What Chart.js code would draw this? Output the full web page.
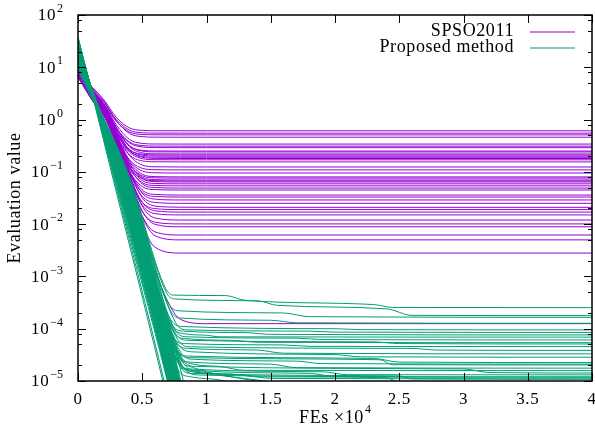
<!DOCTYPE html>
<html>
<head>
<meta charset="utf-8">
<script src="https://cdn.jsdelivr.net/npm/chart.js@4/dist/chart.umd.min.js"></script>
<style>
  body { margin: 0; background: #fff; }
  #wrap { width: 595px; height: 430px; }
</style>
</head>
<body>
<div id="wrap"><canvas id="c" width="595" height="430"></canvas></div>
<script>
// x ticks (FEs x 10^4) and y decades
const xTicks = [0, 0.5, 1, 1.5, 2, 2.5, 3, 3.5, 4];
const xTickLabels = ["0", "0.5", "1", "1.5", "2", "2.5", "3", "3.5", "4"];
const yExps = [-5, -4, -3, -2, -1, 0, 1, 2];
const seriesNames = ["SPSO2011", "Proposed method"];

// SPSO2011 runs, sampled at these FEs
const spsoFEs = [0, 0.1, 0.2, 0.3, 0.4, 0.5, 0.6, 0.8, 1, 4];
const spsoRuns = [
  [8, 4.45, 2.41, 1.09, 0.694, 0.621, 0.611, 0.61, 0.61, 0.61],
  [9, 4.07, 2.20, 0.99, 0.627, 0.56, 0.551, 0.55, 0.55, 0.55],
  [7, 3.71, 2.01, 0.91, 0.58, 0.519, 0.511, 0.51, 0.51, 0.51],
  [10, 4.30, 2.26, 0.94, 0.544, 0.471, 0.461, 0.46, 0.46, 0.46],
  [8.5, 3.86, 1.99, 0.78, 0.417, 0.35, 0.341, 0.34, 0.34, 0.34],
  [6.5, 3.19, 1.66, 0.67, 0.373, 0.318, 0.311, 0.31, 0.31, 0.31],
  [9, 3.49, 1.79, 0.69, 0.36, 0.299, 0.291, 0.29, 0.29, 0.29],
  [7.5, 3.13, 1.60, 0.61, 0.313, 0.258, 0.251, 0.25, 0.25, 0.25],
  [8, 3.76, 1.89, 0.68, 0.317, 0.25, 0.241, 0.24, 0.24, 0.24],
  [10, 4.06, 2.02, 0.70, 0.304, 0.231, 0.221, 0.22, 0.22, 0.22],
  [6.5, 2.77, 1.41, 0.53, 0.266, 0.217, 0.211, 0.21, 0.21, 0.21],
  [8.5, 3.40, 1.70, 0.60, 0.27, 0.209, 0.201, 0.20, 0.20, 0.20],
  [7, 3.07, 1.54, 0.55, 0.253, 0.198, 0.191, 0.19, 0.19, 0.19],
  [9.5, 3.70, 1.83, 0.62, 0.257, 0.19, 0.181, 0.18, 0.18, 0.18],
  [8, 3.37, 1.67, 0.57, 0.24, 0.179, 0.171, 0.17, 0.17, 0.17],
  [7.5, 2.72, 1.36, 0.475, 0.211, 0.162, 0.156, 0.155, 0.155, 0.155],
  [9, 3.96, 1.92, 0.60, 0.208, 0.135, 0.125, 0.124, 0.124, 0.124],
  [6.5, 2.99, 1.46, 0.47, 0.172, 0.117, 0.11, 0.109, 0.109, 0.109],
  [8, 3.30, 1.60, 0.495, 0.165, 0.104, 0.096, 0.095, 0.095, 0.095],
  [10, 3.60, 1.73, 0.52, 0.157, 0.0899, 0.0811, 0.0801, 0.080, 0.080],
  [7, 2.96, 1.43, 0.436, 0.139, 0.0841, 0.0769, 0.076, 0.076, 0.076],
  [8.5, 3.27, 1.57, 0.47, 0.14, 0.079, 0.071, 0.070, 0.070, 0.070],
  [6.5, 2.63, 1.27, 0.387, 0.123, 0.0742, 0.0678, 0.067, 0.067, 0.067],
  [9, 3.90, 1.86, 0.544, 0.148, 0.0748, 0.0652, 0.064, 0.064, 0.064],
  [7.5, 3.26, 1.56, 0.459, 0.129, 0.068, 0.06, 0.059, 0.059, 0.059],
  [8, 2.93, 1.40, 0.414, 0.117, 0.0621, 0.0549, 0.054, 0.054, 0.054],
  [9.5, 3.57, 1.70, 0.489, 0.126, 0.0589, 0.0501, 0.049, 0.049, 0.049],
  [7, 2.61, 1.25, 0.365, 0.101, 0.0522, 0.0458, 0.045, 0.045, 0.045],
  [8.5, 3.24, 1.54, 0.436, 0.106, 0.045, 0.037, 0.036, 0.036, 0.036],
  [6.5, 2.91, 1.38, 0.393, 0.096, 0.0411, 0.0339, 0.033, 0.033, 0.033],
  [9, 3.55, 1.68, 0.469, 0.106, 0.0389, 0.0301, 0.029, 0.029, 0.029],
  [8, 3.23, 1.53, 0.425, 0.095, 0.034, 0.026, 0.025, 0.025, 0.025],
  [10, 3.86, 1.82, 0.501, 0.105, 0.0318, 0.0222, 0.0211, 0.021, 0.021],
  [7, 2.58, 1.22, 0.339, 0.075, 0.0262, 0.0198, 0.019, 0.019, 0.019],
  [8.5, 3.22, 1.52, 0.417, 0.087, 0.026, 0.018, 0.017, 0.017, 0.017],
  [7.5, 2.90, 1.37, 0.375, 0.078, 0.0231, 0.0159, 0.015, 0.015, 0.015],
  [9.5, 3.53, 1.66, 0.452, 0.089, 0.0219, 0.0131, 0.012, 0.012, 0.012],
  [6.5, 2.57, 1.21, 0.33, 0.0661, 0.0173, 0.0109, 0.0101, 0.0101, 0.0101],
  [8, 3.21, 1.51, 0.409, 0.0789, 0.0179, 0.0099, 0.0089, 0.0089, 0.0089],
  [7, 2.89, 1.36, 0.366, 0.0692, 0.0143, 0.0071, 0.0062, 0.0062, 0.0062],
  [9, 3.21, 1.51, 0.405, 0.075, 0.014, 0.006, 0.005, 0.005, 0.005],
  [8, 2.56, 1.20, 0.323, 0.0588, 0.01, 0.0036, 0.0028, 0.0028, 0.0028],
  [8, 2.6, 1.2, 0.32, 0.05, 0.006, 0.0012, 1.5e-4, 1.25e-4, 1.25e-4]
];

// Proposed method runs, [FEs, value] points
const proposedRuns = [
  [[0, 10], [0.4, 0.08], [0.68, 6e-4], [0.74, 4.4e-4], [1.15, 4.3e-4], [1.3, 3.5e-4], [2.3, 2.9e-4], [2.45, 2.55e-4], [4, 2.53e-4]],
  [[0, 11], [0.4, 0.07], [0.69, 4.8e-4], [0.76, 3.7e-4], [1.4, 3.4e-4], [1.55, 2.8e-4], [2.4, 2.4e-4], [2.6, 1.8e-4], [4, 1.78e-4]],
  [[0, 12], [0.4, 0.06], [0.7, 3.2e-4], [0.78, 2.2e-4], [1.6, 2.0e-4], [1.8, 1.7e-4], [4, 1.65e-4]],
  [[0, 9], [0.4, 0.065], [0.72, 2.2e-4], [0.8, 1.6e-4], [1.5, 1.45e-4], [1.7, 1.3e-4], [4, 1.27e-4]],
  [[0, 14], [0.4, 0.05], [0.72, 1.5e-4], [0.82, 1.1e-4], [2.0, 1.0e-4], [2.2, 9.6e-5], [4, 9.5e-5]],
  [[0, 13], [0.4, 0.055], [0.73, 1.2e-4], [0.82, 9e-5], [1.3, 8.4e-5], [1.5, 7.8e-5], [4, 7.6e-5]],
  [[0, 15], [0.4, 0.045], [0.73, 1.1e-4], [0.83, 8e-5], [1.0, 7.5e-5], [1.1, 7e-5], [4, 6.9e-5]],
  [[0, 11], [0.4, 0.06], [0.75, 1e-4], [0.85, 7e-5], [1.7, 6.6e-5], [1.9, 6.2e-5], [4, 6.1e-5]],
  [[0, 17], [0.4, 0.04], [0.74, 9e-5], [0.83, 6.5e-5], [1.2, 6e-5], [1.4, 5.5e-5], [4, 5.4e-5]],
  [[0, 13], [0.4, 0.05], [0.76, 8e-5], [0.86, 6e-5], [2.3, 5.6e-5], [2.5, 5.2e-5], [4, 5.1e-5]],
  [[0, 19], [0.4, 0.035], [0.74, 7e-5], [0.83, 5.2e-5], [1.6, 4.9e-5], [1.8, 4.6e-5], [4, 4.55e-5]],
  [[0, 16], [0.4, 0.04], [0.76, 5.5e-5], [0.86, 4.2e-5], [1.4, 3.9e-5], [1.6, 3.4e-5], [4, 3.3e-5]],
  [[0, 14], [0.4, 0.05], [0.78, 5e-5], [0.9, 3.6e-5], [2.0, 3.2e-5], [2.2, 2.9e-5], [4, 2.85e-5]],
  [[0, 21], [0.4, 0.03], [0.75, 4e-5], [0.86, 3e-5], [2.3, 2.7e-5], [2.5, 2.3e-5], [4, 2.25e-5]],
  [[0, 16], [0.4, 0.045], [0.77, 4e-5], [0.88, 2.8e-5], [2.35, 2.55e-5], [2.45, 2.05e-5], [4, 2.03e-5]],
  [[0, 18], [0.4, 0.035], [0.77, 3.2e-5], [0.87, 2.3e-5], [1.5, 2.1e-5], [1.7, 1.8e-5], [4, 1.76e-5]],
  [[0, 12], [0.4, 0.055], [0.8, 3e-5], [0.9, 2.1e-5], [1.1, 1.9e-5], [1.3, 1.6e-5], [4, 1.58e-5]],
  [[0, 20], [0.4, 0.03], [0.77, 2.5e-5], [0.87, 1.7e-5], [1.9, 1.5e-5], [2.1, 1.32e-5], [4, 1.31e-5]],
  [[0, 15], [0.4, 0.045], [0.8, 2.2e-5], [0.9, 1.5e-5], [1.2, 1.35e-5], [1.4, 1.2e-5], [4, 1.18e-5]],
  [[0, 17], [0.4, 0.04], [0.79, 2e-5], [0.88, 1.4e-5], [2.5, 1.25e-5], [2.6, 1.1e-5], [4, 1.08e-5]],
  [[0, 14], [0.4, 0.05], [0.8, 2.8e-5], [0.92, 1.9e-5], [3.0, 1.7e-5], [3.2, 1.45e-5], [4, 1.42e-5]],
  [[0, 18], [0.4, 0.035], [0.78, 2.4e-5], [0.9, 1.6e-5], [1.8, 1.4e-5], [2.0, 1.22e-5], [4, 1.2e-5]],
  [[0, 12], [0.4, 0.06], [0.82, 2.2e-5], [0.95, 1.5e-5], [1.3, 1.3e-5], [1.5, 1.12e-5], [4, 1.1e-5]],
  [[0, 16], [0.4, 0.04], [0.8, 3.5e-5], [0.9, 2.6e-5], [1.7, 2.4e-5], [1.9, 2.15e-5], [4, 2.1e-5]],
  [[0, 20], [0.4, 0.03], [0.78, 6e-5], [0.88, 4.5e-5], [2.6, 4.2e-5], [2.8, 3.9e-5], [4, 3.85e-5]],
  [[0, 13], [0.4, 0.055], [0.76, 1.3e-4], [0.85, 9.5e-5], [1.8, 9e-5], [2.0, 8.6e-5], [4, 8.5e-5]],
  [[0, 16], [0.4, 0.045], [0.8, 2.5e-5], [0.9, 1.8e-5], [1.0, 1.5e-5], [1.5, 9e-6]],
  [[0, 19], [0.4, 0.035], [0.79, 2e-5], [0.9, 1.5e-5], [1.2, 1.2e-5], [1.6, 9e-6]],
  [[0, 13], [0.4, 0.05], [0.82, 1.8e-5], [0.95, 1.3e-5], [2.4, 1.15e-5], [2.5, 9e-6]],
  [[0, 21], [0.4, 0.03], [0.78, 1.6e-5], [0.88, 1.2e-5], [1.1, 1.05e-5], [1.2, 9e-6]],
  [[0, 30], [0.4, 0.012], [0.70, 1e-5], [0.75, 3e-6]],
  [[0, 25], [0.4, 0.02], [0.74, 1e-5], [0.79, 3e-6]],
  [[0, 28], [0.4, 0.015], [0.73, 1e-5], [0.78, 3e-6]],
  [[0, 20], [0.4, 0.03], [0.76, 1e-5], [0.81, 3e-6]],
  [[0, 22], [0.4, 0.025], [0.75, 1e-5], [0.80, 3e-6]],
  [[0, 17], [0.4, 0.04], [0.78, 1e-5], [0.83, 3e-6]],
  [[0, 32], [0.4, 0.009], [0.71, 1e-5], [0.76, 3e-6]],
  [[0, 14], [0.4, 0.05], [0.79, 1e-5], [0.84, 3e-6]],
  [[0, 26], [0.4, 0.018], [0.74, 1e-5], [0.79, 3e-6]],
  [[0, 19], [0.4, 0.035], [0.77, 1e-5], [0.82, 3e-6]],
  [[0, 24], [0.4, 0.022], [0.75, 1e-5], [0.80, 3e-6]],
  [[0, 11], [0.4, 0.06], [0.80, 1e-5], [0.85, 3e-6]],
  [[0, 21], [0.4, 0.03], [0.77, 1e-5], [0.82, 3e-6]],
  [[0, 38], [0.4, 0.004], [0.66, 1e-5], [0.71, 3e-6]],
  [[0, 37], [0.4, 0.005], [0.67, 1e-5], [0.72, 3e-6]],
  [[0, 29], [0.4, 0.012], [0.72, 1e-5], [0.77, 3e-6]],
  [[0, 15], [0.4, 0.045], [0.78, 1e-5], [0.83, 3e-6]],
  [[0, 21], [0.4, 0.028], [0.76, 1e-5], [0.81, 3e-6]],
  [[0, 10], [0.4, 0.07], [0.82, 1e-5], [0.87, 3e-6]],
  [[0, 27], [0.4, 0.016], [0.73, 1e-5], [0.78, 3e-6]],
  [[0, 31], [0.4, 0.01], [0.71, 1e-5], [0.76, 3e-6]],
  [[0, 25], [0.4, 0.02], [0.74, 1e-5], [0.79, 3e-6]],
  [[0, 30], [0.4, 0.011], [0.72, 1e-5], [0.77, 3e-6]],
  [[0, 28], [0.4, 0.014], [0.73, 1e-5], [0.78, 3e-6]],
  [[0, 27], [0.4, 0.017], [0.74, 1e-5], [0.79, 3e-6]],
  [[0, 24], [0.4, 0.021], [0.75, 1e-5], [0.80, 3e-6]],
  [[0, 22], [0.4, 0.026], [0.76, 1e-5], [0.81, 3e-6]],
  [[0, 20], [0.4, 0.032], [0.77, 1e-5], [0.82, 3e-6]],
  [[0, 18], [0.4, 0.038], [0.78, 1e-5], [0.83, 3e-6]],
  [[0, 29], [0.4, 0.013], [0.725, 1e-5], [0.775, 3e-6]],
  [[0, 33], [0.4, 0.008], [0.705, 1e-5], [0.755, 3e-6]],
  [[0, 26], [0.4, 0.019], [0.745, 1e-5], [0.795, 3e-6]],
  [[0, 23], [0.4, 0.024], [0.755, 1e-5], [0.805, 3e-6]],
  [[0, 21], [0.4, 0.029], [0.765, 1e-5], [0.815, 3e-6]],
  [[0, 18], [0.4, 0.036], [0.775, 1e-5], [0.825, 3e-6]],
  [[0, 31], [0.4, 0.01], [0.715, 1e-5], [0.765, 3e-6]],
  [[0, 27], [0.4, 0.016], [0.735, 1e-5], [0.785, 3e-6]],
  [[0, 24], [0.4, 0.023], [0.75, 1e-5], [0.80, 3e-6]],
  [[0, 19], [0.4, 0.033], [0.77, 1e-5], [0.82, 3e-6]],
  [[0, 16], [0.4, 0.042], [0.785, 1e-5], [0.835, 3e-6]],
  [[0, 12], [0.4, 0.055], [0.795, 1e-5], [0.845, 3e-6]],
  [[0, 34], [0.4, 0.007], [0.70, 1e-5], [0.75, 3e-6]],
  [[0, 32], [0.4, 0.009], [0.71, 1e-5], [0.76, 3e-6]],
  [[0, 30], [0.4, 0.012], [0.72, 1e-5], [0.77, 3e-6]],
  [[0, 26], [0.4, 0.016], [0.735, 1e-5], [0.785, 3e-6]],
  [[0, 25], [0.4, 0.02], [0.745, 1e-5], [0.795, 3e-6]],
  [[0, 22], [0.4, 0.027], [0.76, 1e-5], [0.81, 3e-6]],
  [[0, 15], [0.4, 0.048], [0.79, 1e-5], [0.84, 3e-6]],
  [[0, 36], [0.4, 0.006], [0.695, 1e-5], [0.745, 3e-6]],
  [[0, 21], [0.4, 0.028], [0.765, 1e-5], [0.815, 3e-6]]
];

const purple = "#9400d3";
const green = "#009e73";
const font = "'Liberation Serif', 'Times New Roman', serif";

const datasets = [];
spsoRuns.forEach(run => {
  datasets.push({
    data: run.map((v, i) => ({ x: spsoFEs[i], y: v })),
    borderColor: purple,
    borderWidth: 1,
    pointRadius: 0,
    cubicInterpolationMode: "monotone",
    order: 1
  });
});
proposedRuns.forEach(run => {
  datasets.push({
    data: run.map(p => ({ x: p[0], y: p[1] })),
    borderColor: green,
    borderWidth: 1,
    pointRadius: 0,
    cubicInterpolationMode: "monotone",
    order: 0
  });
});

function setFont(ctx, size) {
  ctx.font = size + "px " + font;
  ctx.letterSpacing = size > 14 ? "0.6px" : "0px";
}

// frame, inward ticks, labels and legend in gnuplot style
const gnuplotFrame = {
  id: "gnuplotFrame",
  afterDraw(chart) {
    const { ctx, chartArea: a, scales: { x, y } } = chart;
    ctx.save();
    ctx.strokeStyle = "#000";
    ctx.fillStyle = "#000";
    ctx.lineWidth = 1;

    ctx.beginPath();
    xTicks.forEach(t => {
      const px = Math.round(x.getPixelForValue(t)) + 0.5;
      ctx.moveTo(px, a.bottom); ctx.lineTo(px, a.bottom - 8);
      ctx.moveTo(px, a.top); ctx.lineTo(px, a.top + 8);
    });
    yExps.forEach(e => {
      const py = Math.round(y.getPixelForValue(Math.pow(10, e))) + 0.5;
      ctx.moveTo(a.left, py); ctx.lineTo(a.left + 8, py);
      ctx.moveTo(a.right, py); ctx.lineTo(a.right - 8, py);
      if (e < 2) {
        [2, 5, 8].forEach(m => {
          const pm = Math.round(y.getPixelForValue(m * Math.pow(10, e))) + 0.5;
          ctx.moveTo(a.left, pm); ctx.lineTo(a.left + 4, pm);
          ctx.moveTo(a.right, pm); ctx.lineTo(a.right - 4, pm);
        });
      }
    });
    ctx.stroke();

    ctx.lineWidth = 1.5;
    ctx.strokeRect(a.left, a.top, a.right - a.left, a.bottom - a.top);

    // x tick labels
    setFont(ctx, 17);
    ctx.textAlign = "center";
    ctx.textBaseline = "middle";
    xTicks.forEach((t, i) => {
      ctx.fillText(xTickLabels[i], x.getPixelForValue(t), a.bottom + 19);
    });

    // y tick labels 10^e
    yExps.forEach(e => {
      const py = y.getPixelForValue(Math.pow(10, e));
      const sup = e < 0 ? "\u2212" + (-e) : String(e);
      setFont(ctx, 12);
      const sw = ctx.measureText(sup).width;
      setFont(ctx, 17);
      const bw = ctx.measureText("10").width;
      const x0 = a.left - 16 - sw - bw;
      ctx.textAlign = "left";
      ctx.fillText("10", x0, py + 1);
      setFont(ctx, 12);
      ctx.fillText(sup, x0 + bw + 1, py - 6);
    });

    // x title
    setFont(ctx, 18);
    const t1 = "FEs \u00d710";
    const w1 = ctx.measureText(t1).width;
    setFont(ctx, 12);
    const w2 = ctx.measureText("4").width;
    const cx = (a.left + a.right) / 2;
    const sx = cx - (w1 + w2 + 1) / 2;
    ctx.textAlign = "left";
    setFont(ctx, 18);
    ctx.fillText(t1, sx, 418);
    setFont(ctx, 12);
    ctx.fillText("4", sx + w1 + 1, 410);

    // y title
    ctx.save();
    ctx.translate(15, (a.top + a.bottom) / 2);
    ctx.rotate(-Math.PI / 2);
    setFont(ctx, 18);
    ctx.textAlign = "center";
    ctx.fillText("Evaluation value", 0, 0);
    ctx.restore();

    // legend
    setFont(ctx, 18);
    ctx.textAlign = "right";
    const legendColors = [purple, green];
    seriesNames.forEach((name, i) => {
      const ly = 31 + i * 16;
      ctx.fillStyle = "#000";
      ctx.fillText(name, 514, ly);
      ctx.strokeStyle = legendColors[i];
      ctx.lineWidth = 1.2;
      ctx.beginPath();
      ctx.moveTo(530, ly + 1); ctx.lineTo(575, ly + 1);
      ctx.stroke();
    });
    ctx.restore();
  }
};

new Chart(document.getElementById("c"), {
  type: "line",
  data: { datasets: datasets },
  options: {
    responsive: false,
    animation: false,
    events: [],
    layout: { padding: { left: 78, right: 3, top: 15, bottom: 49 } },
    plugins: { legend: { display: false }, tooltip: { enabled: false } },
    scales: {
      x: { type: "linear", min: 0, max: 4, display: false },
      y: { type: "logarithmic", min: 1e-5, max: 100, display: false }
    }
  },
  plugins: [gnuplotFrame]
});
</script>
</body>
</html>
